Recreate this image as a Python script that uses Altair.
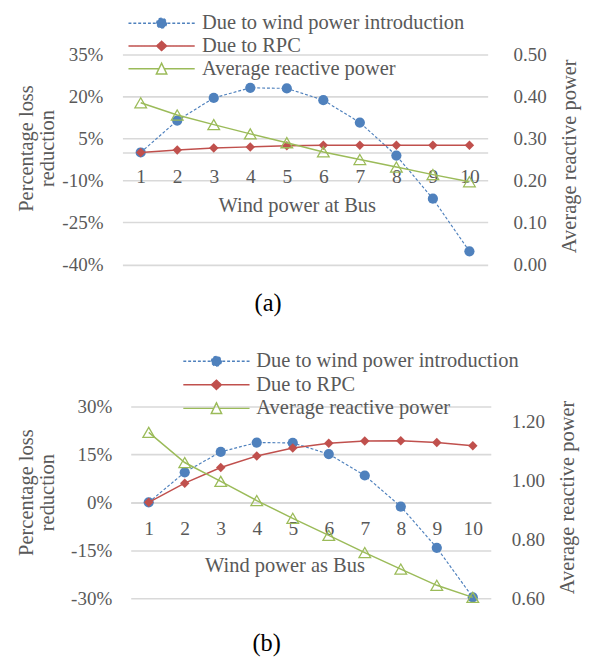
import altair as alt
import pandas as pd

buses = [1, 2, 3, 4, 5, 6, 7, 8, 9, 10]
series_names = ["Due to wind power introduction", "Due to RPC", "Average reactive power"]

# Panel (a): percentage loss reduction (%) and average reactive power
a_wind = [0.0, 11.4, 19.5, 23.1, 22.9, 18.7, 10.7, -1.1, -16.5, -35.3]
a_rpc = [0.0, 0.9, 1.6, 2.0, 2.4, 2.6, 2.6, 2.6, 2.6, 2.6]
a_q = [0.385, 0.356, 0.333, 0.311, 0.290, 0.268, 0.250, 0.232, 0.214, 0.197]
a_left_ticks = [-40, -25, -10, 5, 20, 35]
a_right_ticks = [0.0, 0.1, 0.2, 0.3, 0.4, 0.5]

# Panel (b)
b_wind = [0.0, 9.4, 15.8, 18.7, 18.6, 15.1, 8.4, -1.3, -14.2, -29.7]
b_rpc = [0.0, 6.0, 10.9, 14.5, 17.0, 18.5, 19.2, 19.3, 18.7, 17.7]
b_q = [1.162, 1.060, 0.996, 0.931, 0.871, 0.813, 0.755, 0.699, 0.644, 0.603]
b_left_ticks = [-30, -15, 0, 15, 30]
b_right_ticks = [0.6, 0.8, 1.0, 1.2]

BLUE, RED, GREEN = "#4F81BD", "#C0504D", "#9BBB59"
GRID = "#D9D9D9"
TXT = "#595959"
FONT = "Liberation Serif"

# legend key shapes: line segment with marker (unit coordinates)
KEY_PATHS = [
    "M-1,0H1M0.147,0A0.147,0.147,0,1,1,-0.147,0A0.147,0.147,0,1,1,0.147,0Z",
    "M-1,0H1M0,-0.14L0.15,0L0,0.14L-0.15,0Z",
    "M-1,0H-0.081M0.081,0H1M0,-0.168L0.157,0.156L-0.157,0.156Z",
]


def make_panel(wind, rpc, q, ydom, yticks, qdom, qticks, w, h, xrange, xtitle, caption, lay):
    zero_off = -h * (0 - ydom[0]) / (ydom[1] - ydom[0])
    xaxis = alt.Axis(
        title=xtitle, orient="bottom", offset=zero_off, grid=False, ticks=False,
        domain=True, domainColor=GRID, domainWidth=1.6, labelAngle=0,
        labelFontSize=20, labelPadding=lay["xlp"], titleX=lay["xtx"], titleY=lay["xty"],
        titleBaseline="middle", titleAlign="center", titleFontSize=21,
    )
    x = alt.X("bus:O", scale=alt.Scale(domain=buses, range=xrange), axis=xaxis)
    yaxis = alt.Axis(
        title=["Percentage loss", "reduction"], values=yticks, labelExpr="datum.value + '%'",
        grid=True, gridColor=GRID, gridWidth=1.6, domain=False, ticks=False,
        labelFontSize=19.5, labelPadding=lay["ylp"], titleFontSize=21, titleLineHeight=22,
        titleAngle=270, titleX=lay["ltx"], titleY=lay["lty"], titleBaseline="middle",
        titleAlign="center",
    )
    yl = alt.Y("v:Q", scale=alt.Scale(domain=ydom, nice=False, zero=False), axis=yaxis)
    qaxis = alt.Axis(
        title="Average reactive power", orient="right", values=qticks, format=".2f",
        grid=False, domain=False, ticks=False, labelFontSize=19.5, labelPadding=lay["rlp"],
        titleFontSize=21, titleAngle=270, titleX=lay["rtx"], titleY=lay["rty"],
        titleBaseline="middle", titleAlign="center",
    )
    yr = alt.Y("v:Q", scale=alt.Scale(domain=qdom, nice=False, zero=False), axis=qaxis)

    dw = pd.DataFrame({"bus": buses, "v": wind})
    dr = pd.DataFrame({"bus": buses, "v": rpc})
    dq = pd.DataFrame({"bus": buses, "v": q})

    w_line = alt.Chart(dw).mark_line(color=BLUE, strokeWidth=1.2, strokeDash=[3, 2]).encode(x=x, y=yl)
    w_pts = alt.Chart(dw).mark_point(filled=True, opacity=1, shape="circle", size=110, color=BLUE).encode(x=x, y=yl)
    r_line = alt.Chart(dr).mark_line(color=RED, strokeWidth=1.5).encode(x=x, y=yl)
    r_pts = alt.Chart(dr).mark_point(filled=True, opacity=1, shape="diamond", size=95, color=RED).encode(x=x, y=yl)
    q_line = alt.Chart(dq).mark_line(color=GREEN, strokeWidth=1.5).encode(x=x, y=yr)
    q_pts = alt.Chart(dq).mark_point(filled=False, opacity=1, shape="triangle-up", size=144,
                                     color=GREEN, strokeWidth=1.3).encode(x=x, y=yr)

    leg = alt.Legend(
        orient="none", legendX=lay["lgx"], legendY=lay["lgy"], title=None, padding=0,
        symbolSize=4624, symbolStrokeWidth=1.5, symbolOpacity=1, symbolFillColor="white",
        labelFontSize=21, labelColor=TXT,
        labelFont=FONT, labelLimit=400, labelOffset=lay["lgo"], clipHeight=18,
        rowPadding=lay["lgr"],
    )
    dl = pd.DataFrame({"series": series_names})
    legend_layer = alt.Chart(dl).mark_point(filled=True, opacity=0).encode(
        x=alt.value(0), y=alt.value(0),
        shape=alt.Shape("series:N", scale=alt.Scale(domain=series_names, range=KEY_PATHS), legend=leg),
        stroke=alt.Stroke("series:N", scale=alt.Scale(domain=series_names, range=[BLUE, RED, GREEN]), legend=leg),
        fill=alt.Fill("series:N", scale=alt.Scale(domain=series_names, range=[BLUE, RED, "transparent"]), legend=leg),
        strokeDash=alt.StrokeDash("series:N", scale=alt.Scale(domain=series_names, range=[[3, 2], [1, 0], [1, 0]]), legend=leg),
    )

    left = alt.layer(w_line, w_pts, r_line, r_pts, legend_layer)
    right = alt.layer(q_line, q_pts)
    return alt.layer(left, right).resolve_scale(y="independent").properties(
        width=w, height=h,
        title=alt.TitleParams(caption, orient="bottom", frame="group", anchor="middle",
                              dx=lay["cdx"], offset=lay["coff"], fontSize=25,
                              fontWeight="normal", color="#000000", font=FONT),
    )


pa = make_panel(
    a_wind, a_rpc, a_q, [-40, 35], a_left_ticks, [0.0, 0.5], a_right_ticks,
    375, 215.5, [0, 375], "Wind power at Bus", "(a)",
    dict(xlp=15, xtx=179, xty=55, ylp=20, rlp=26, ltx=-98.8, lty=96, rtx=84.5, rty=104,
         lgx=5.2, lgy=-41.2, lgo=6.5, lgr=2.4, cdx=-38, coff=18.5),
)
pb = make_panel(
    b_wind, b_rpc, b_q, [-30, 30], b_left_ticks, [0.6, 1.25], b_right_ticks,
    378.2, 197, [8.5, 378.2], "Wind power as Bus", "(b)",
    dict(xlp=16.5, xtx=166.4, xty=65, ylp=11, rlp=21, ltx=-98.8, lty=88, rtx=79.3, rty=93,
         lgx=61.5, lgy=-55.4, lgo=6, lgr=3.2, cdx=-41, coff=24.5),
)

chart = alt.vconcat(pa, pb, spacing=36.3, padding={"left": 7.5, "top": -3, "right": 8, "bottom": 0}).resolve_scale(
    x="independent", shape="independent", stroke="independent", fill="independent", strokeDash="independent"
).configure_view(stroke=None).configure_axis(
    labelFont=FONT, titleFont=FONT, labelColor=TXT, titleColor=TXT, titleFontWeight="normal"
).configure_title(font=FONT)

chart.save("out.html", embed_options={"renderer": "svg", "actions": False})
